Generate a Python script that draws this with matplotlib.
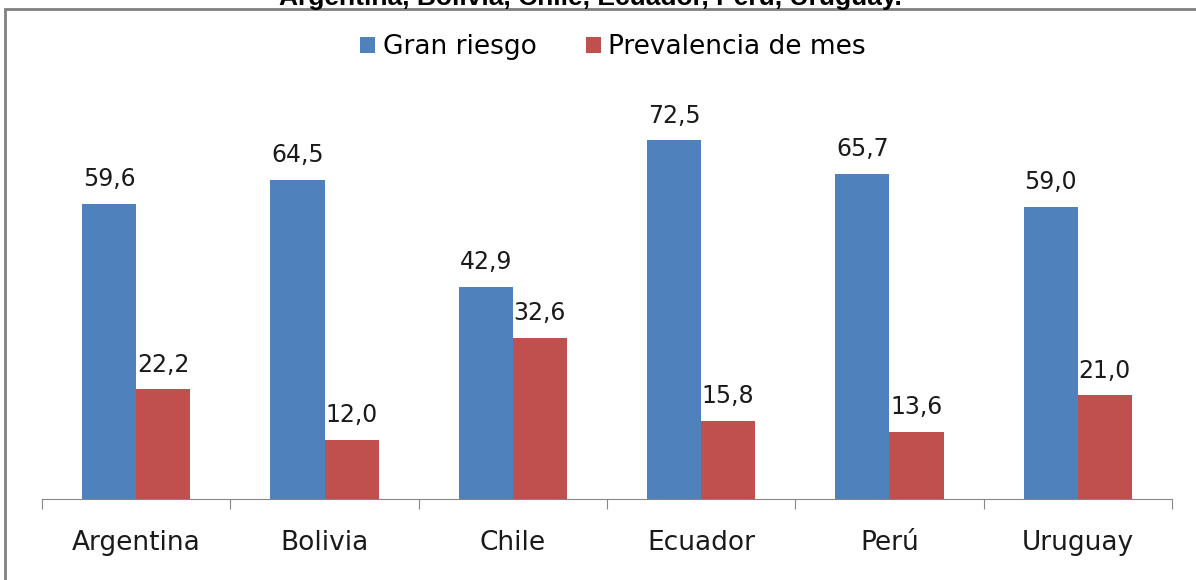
import matplotlib.pyplot as plt
from matplotlib.patches import Rectangle

paises = ["Argentina", "Bolivia", "Chile", "Ecuador", "Perú", "Uruguay"]
gran_riesgo = [59.6, 64.5, 42.9, 72.5, 65.7, 59.0]
prevalencia_mes = [22.2, 12.0, 32.6, 15.8, 13.6, 21.0]
series_names = ["Gran riesgo", "Prevalencia de mes"]

W, H = 1196, 580
fig = plt.figure(figsize=(W / 100, H / 100), dpi=100, facecolor="white")
plt.rcParams['font.family'] = ['DejaVu Sans']

# outer chart frame (cut by the image edges)
fig.patches.append(Rectangle((5 / W, -0.1), 1.2, (H - 9) / H + 0.1,
                             transform=fig.transFigure, fill=False,
                             edgecolor="#808080", lw=2))

fig.text(590 / W, 1 - 5 / H, "Argentina, Bolivia, Chile, Ecuador, Perú, Uruguay.",
         ha="center", va="baseline", fontsize=19, fontweight="bold",
         family=["Liberation Sans", "DejaVu Sans"])

ax = fig.add_axes([42 / W, (H - 499) / H, 1130 / W, 396 / H])
ax.set_xlim(-0.5, len(paises) - 0.5)
ax.set_ylim(0, 80)

w = 0.287
x = list(range(len(paises)))
b1 = ax.bar([i - w / 2 for i in x], gran_riesgo, w, color="#4F81BD", label=series_names[0])
b2 = ax.bar([i + w / 2 for i in x], prevalencia_mes, w, color="#C0504D", label=series_names[1])

for bars, vals in ((b1, gran_riesgo), (b2, prevalencia_mes)):
    for r, v in zip(bars, vals):
        ax.annotate(f"{v:.1f}".replace(".", ","),
                    (r.get_x() + r.get_width() / 2, v), xytext=(0, 9),
                    textcoords="offset points", ha="center", va="bottom",
                    fontsize=17, color="#1a1a1a")

for s in ("top", "right", "left"):
    ax.spines[s].set_visible(False)
ax.spines["bottom"].set_color("#868686")
ax.set_yticks([])
ax.set_xticks([i - 0.5 for i in range(len(paises) + 1)], minor=False)
ax.set_xticklabels([])
ax.tick_params(axis="x", length=7, color="#868686")
ax.set_xticks(x, minor=True)
ax.set_xticklabels(paises, minor=True)
ax.tick_params(axis="x", which="minor", length=0, pad=22, labelsize=19, labelcolor="#1a1a1a")

ax.legend(loc="center", bbox_to_anchor=(613 / W, 1 - 47 / H),
          bbox_transform=fig.transFigure, ncol=2, frameon=False,
          fontsize=19, handlelength=0.57, handleheight=0.57, columnspacing=1.85,
          handletextpad=0.3)

fig.savefig("out.png", dpi=100)
